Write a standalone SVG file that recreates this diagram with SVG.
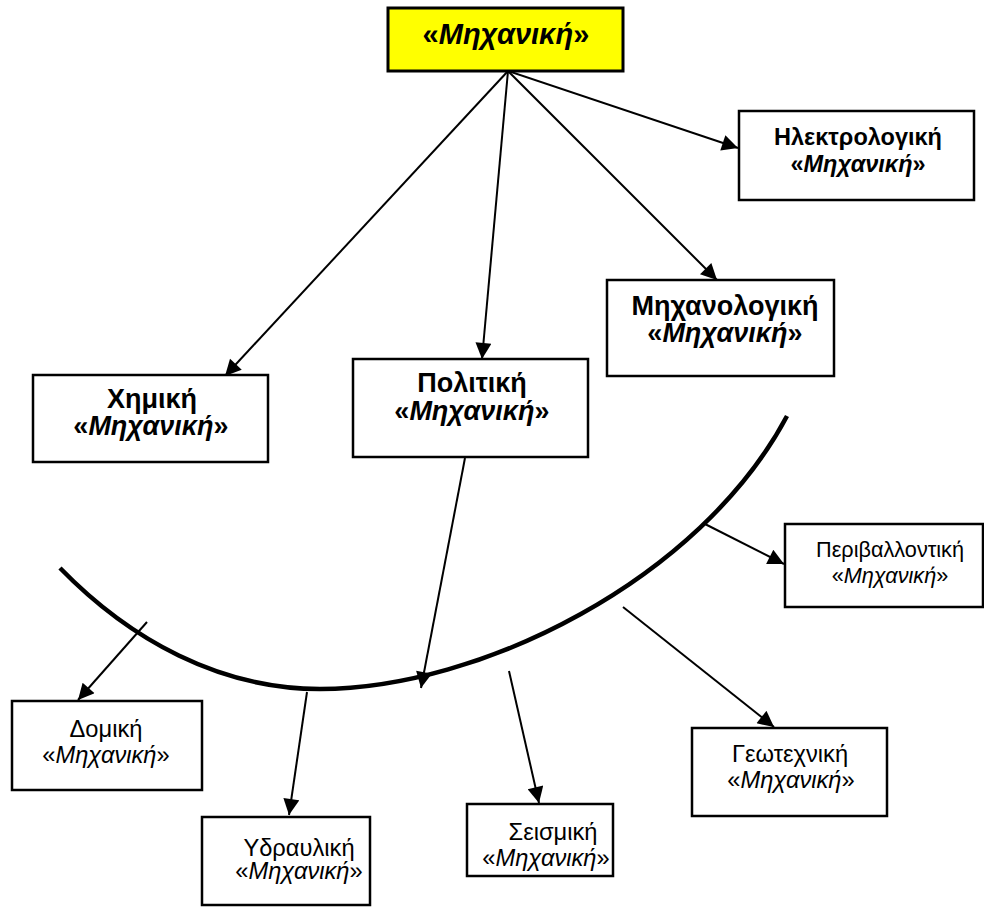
<svg xmlns="http://www.w3.org/2000/svg" width="984" height="907" viewBox="0 0 984 907">
  <style>
    .box { fill: #ffffff; stroke: #000000; stroke-width: 2.5; }
    .root { fill: #ffff00; stroke: #000000; stroke-width: 3; }
    text { font-family: "Liberation Sans", Arial, sans-serif; fill: #000000; text-anchor: middle; }
    .b { font-weight: bold; font-size: 27px; }
    .bs { font-weight: bold; font-size: 23.5px; }
    .r { font-size: 23.7px; }
    .rs { font-size: 21.7px; }
    .t { font-weight: bold; font-size: 29px; }
    .i { font-style: italic; }
    .link { stroke: #000000; stroke-width: 2; fill: none; marker-end: url(#arrow); }
    .arc { stroke: #000000; stroke-width: 4.5; fill: none; }
  </style>
  <defs>
    <marker id="arrow" viewBox="0 0 10 10" refX="10" refY="5" markerWidth="9.5" markerHeight="8" markerUnits="strokeWidth" orient="auto">
      <path d="M0,0 L10,5 L0,10 z" fill="#000000"/>
    </marker>
  </defs>

  <!-- curved divider -->
  <path class="arc" d="M60,568 C130,640 220,689 320,689 C480,689 700,580 787,416"/>

  <g id="connectors">
    <line class="link" x1="508" y1="71" x2="738" y2="148"/>
    <line class="link" x1="508" y1="71" x2="717" y2="280"/>
    <line class="link" x1="508" y1="71" x2="482" y2="359"/>
    <line class="link" x1="508" y1="71" x2="225" y2="376"/>
    <line class="link" x1="465" y1="458" x2="421" y2="688"/>
    <line class="link" x1="147" y1="622" x2="78" y2="700"/>
    <line class="link" x1="307" y1="692" x2="289" y2="815"/>
    <line class="link" x1="509" y1="671" x2="539" y2="803"/>
    <line class="link" x1="703" y1="523" x2="784" y2="564"/>
    <line class="link" x1="623" y1="607" x2="774" y2="727"/>
  </g>

  <g id="mechanics">
    <rect class="root" x="388" y="8" width="235" height="63"/>
    <text class="t" x="506" y="44">«<tspan class="i">Μηχανική</tspan>»</text>
  </g>

  <g id="electrical">
    <rect class="box" x="739" y="111" width="235" height="89"/>
    <text class="bs" x="858" y="145">Ηλεκτρολογική</text>
    <text class="bs" x="858" y="172">«<tspan class="i">Μηχανική</tspan>»</text>
  </g>

  <g id="mechanical">
    <rect class="box" x="607" y="280" width="227" height="96"/>
    <text class="b" x="725" y="315">Μηχανολογική</text>
    <text class="b" x="725" y="342">«<tspan class="i">Μηχανική</tspan>»</text>
  </g>

  <g id="chemical">
    <rect class="box" x="33" y="375" width="235" height="87"/>
    <text class="b" x="152" y="408">Χημική</text>
    <text class="b" x="151" y="435">«<tspan class="i">Μηχανική</tspan>»</text>
  </g>

  <g id="civil">
    <rect class="box" x="353" y="359" width="235" height="98"/>
    <text class="b" x="472" y="392">Πολιτική</text>
    <text class="b" x="472" y="420">«<tspan class="i">Μηχανική</tspan>»</text>
  </g>

  <g id="structural">
    <rect class="box" x="12" y="701" width="190" height="89"/>
    <text class="r" x="106" y="737">Δομική</text>
    <text class="r" x="106" y="763">«<tspan class="i">Μηχανική</tspan>»</text>
  </g>

  <g id="hydraulic">
    <rect class="box" x="202" y="817" width="168" height="88"/>
    <text class="r" x="299" y="856">Υδραυλική</text>
    <text class="r" x="299" y="879">«<tspan class="i">Μηχανική</tspan>»</text>
  </g>

  <g id="seismic">
    <rect class="box" x="467" y="804" width="146" height="72"/>
    <text class="r" x="553" y="840">Σεισμική</text>
    <text class="r" x="546" y="866">«<tspan class="i">Μηχανική</tspan>»</text>
  </g>

  <g id="environmental">
    <rect class="box" x="785" y="524" width="198" height="83"/>
    <text class="rs" x="890" y="557">Περιβαλλοντική</text>
    <text class="rs" x="890" y="583">«<tspan class="i">Μηχανική</tspan>»</text>
  </g>

  <g id="geotechnical">
    <rect class="box" x="692" y="728" width="195" height="88"/>
    <text class="r" x="790" y="762">Γεωτεχνική</text>
    <text class="r" x="791" y="788">«<tspan class="i">Μηχανική</tspan>»</text>
  </g>
</svg>
